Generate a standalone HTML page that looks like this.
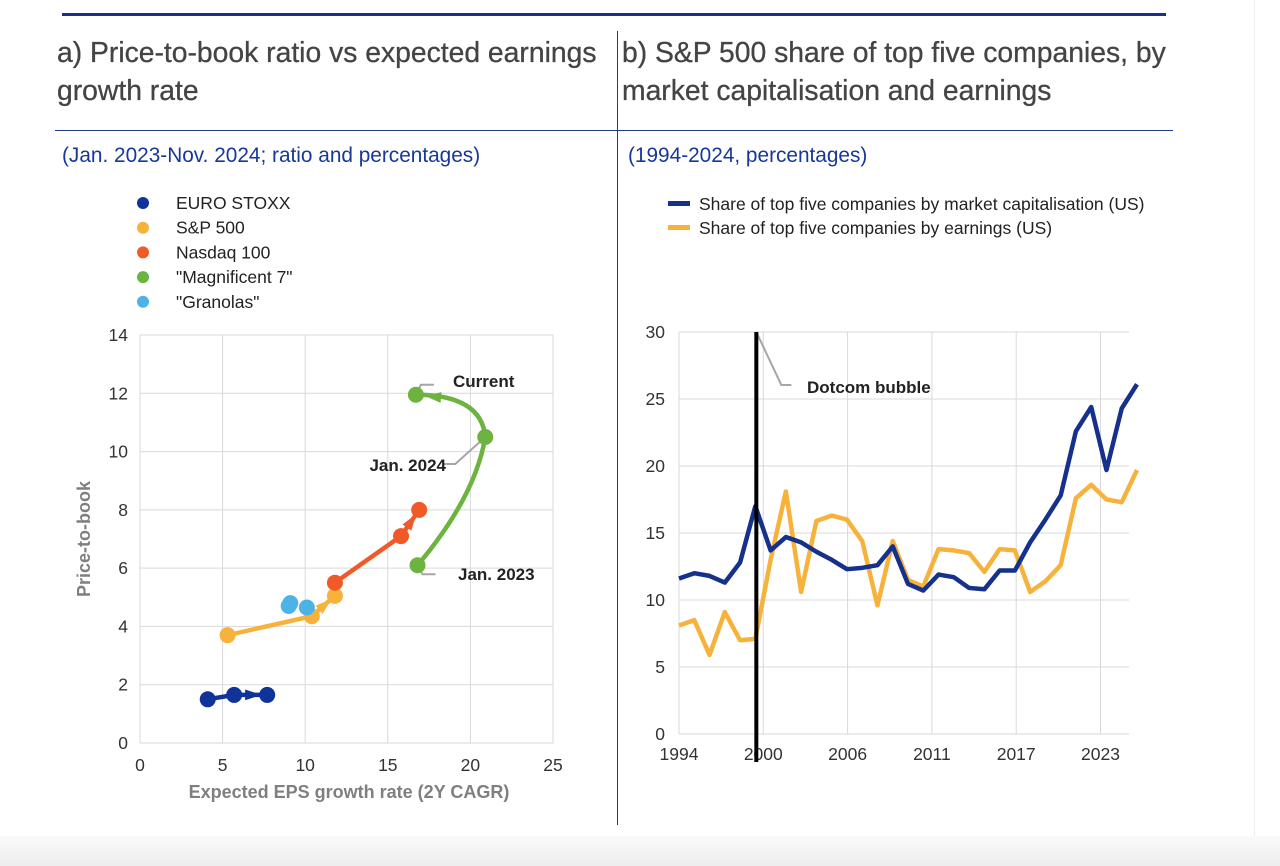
<!DOCTYPE html>
<html><head><meta charset="utf-8"><style>
body{margin:0;width:1280px;height:866px;background:#fff;position:relative;overflow:hidden;font-family:"Liberation Sans",sans-serif}
.t{position:absolute;color:#444;font-size:28.3px;line-height:38px;white-space:nowrap;-webkit-text-stroke:0.3px #444}
.s{position:absolute;color:#17389a;font-size:20.8px;white-space:nowrap}
.ln{position:absolute;background:#1d3c8f}
</style></head><body>
<div class="ln" style="left:62px;top:13px;width:1104px;height:3px;background:#15318c"></div>
<div class="ln" style="left:55px;top:130px;width:1118px;height:1px"></div>
<div class="ln" style="left:617px;top:31px;width:1px;height:794px"></div>
<div class="t" style="left:57px;top:33px">a) Price-to-book ratio vs expected earnings<br>growth rate</div>
<div class="t" style="left:622px;top:33px">b) S&amp;P 500 share of top five companies, by<br>market capitalisation and earnings</div>
<div class="s" style="left:62px;top:144px">(Jan. 2023-Nov. 2024; ratio and percentages)</div>
<div class="s" style="left:628px;top:144px">(1994-2024, percentages)</div>
<div style="position:absolute;left:0;top:836px;width:1280px;height:30px;background:linear-gradient(#fafafa,#eee)"></div>
<div style="position:absolute;left:1254px;top:0;width:1px;height:836px;background:#eee"></div>
<svg id="svgA" width="617" height="830" style="position:absolute;left:0;top:0"></svg>
<svg id="svgB" width="660" height="830" style="position:absolute;left:617px;top:0"></svg>
<script>
// ---------- Chart A data ----------
const seriesNames=["EURO STOXX","S&P 500","Nasdaq 100","\"Magnificent 7\"","\"Granolas\""];
const seriesColors=["#10339a","#f7b23b","#ef5a28","#6db33f","#4db3e6"];
const euroX=[4.1,5.7,7.7], euroY=[1.5,1.65,1.65];
const spX=[5.3,10.4,11.8], spY=[3.7,4.35,5.05];
const ndqX=[11.8,15.8,16.9], ndqY=[5.5,7.1,8.0];
const magX=[16.8,20.9,16.7], magY=[6.1,10.5,11.95];
const granX=[9.0,9.1,10.1], granY=[4.7,4.8,4.65];
const xTicksA=[0,5,10,15,20,25], yTicksA=[0,2,4,6,8,10,12,14];
// ---------- Chart B data ----------
const yearsB=[1994,1995,1996,1997,1998,1999,2000,2001,2002,2003,2004,2005,2006,2007,2008,2009,2010,2011,2012,2013,2014,2015,2016,2017,2018,2019,2020,2021,2022,2023,2024];
const mcapShare=[11.6,12.0,11.8,11.3,12.8,17.0,13.7,14.7,14.3,13.6,13.0,12.3,12.4,12.6,14.0,11.2,10.7,11.9,11.7,10.9,10.8,12.2,12.2,14.3,16.0,17.8,22.6,24.4,19.7,24.3,26.1];
const earnShare=[8.1,8.5,5.9,9.1,7.0,7.1,13.0,18.1,10.6,15.9,16.3,16.0,14.4,9.6,14.4,11.5,11.0,13.8,13.7,13.5,12.1,13.8,13.7,10.6,11.4,12.6,17.6,18.6,17.5,17.3,19.7];
const xTickLabelsB=["1994","2000","2006","2011","2017","2023"];
const yTicksB=[0,5,10,15,20,25,30];

const NS="http://www.w3.org/2000/svg";
const NARROW='"Liberation Sans Narrow","Liberation Sans",sans-serif';
function mk(p,tag,at,txt){const e=document.createElementNS(NS,tag);for(const k in at)e.setAttribute(k,at[k]);if(txt!==undefined)e.textContent=txt;p.appendChild(e);return e;}

// ===== Chart A =====
const A=document.getElementById('svgA');
const ax0=140,ax1=553,ay0=743,ay1=335;
const xA=v=>ax0+(v/25)*(ax1-ax0), yA=v=>ay0-(v/14)*(ay0-ay1);
xTicksA.forEach(v=>{
 const g=mk(A,'line',{x1:xA(v),x2:xA(v),y1:ay1,y2:ay0,stroke:'#d9d9d9','stroke-width':1});
 
 
 const t=mk(A,'text',{x:xA(v),y:771,'text-anchor':'middle','font-size':17.5,fill:'#333','font-family':NARROW},String(v));
 
 
});
yTicksA.forEach(v=>{
 const g=mk(A,'line',{x1:ax0,x2:ax1,y1:yA(v),y2:yA(v),stroke:'#d9d9d9','stroke-width':1});
 
 
 const t=mk(A,'text',{x:128,y:yA(v)+6,'text-anchor':'end','font-size':17.5,fill:'#333','font-family':NARROW},String(v));
 
 
});
const xt=mk(A,'text',{x:349,y:798,'text-anchor':'middle','font-size':18,'font-weight':'bold',fill:'#7f7f7f'},'Expected EPS growth rate (2Y CAGR)');


const yt=mk(A,'text',{x:0,y:0,transform:'translate(90,539) rotate(-90)','text-anchor':'middle','font-size':18,'font-weight':'bold',fill:'#7f7f7f'},'Price-to-book');



function leader(pts,name){const p=mk(A,'polyline',{points:pts,fill:'none',stroke:'#a6a6a6','stroke-width':2});}
leader(`${xA(magX[2])},${yA(magY[2])} ${xA(magX[2])+5},${yA(magY[2])-10} ${xA(magX[2])+18},${yA(magY[2])-10}`,'leader-current');
leader(`${xA(magX[1])},${yA(magY[1])} ${xA(magX[1])-30},${yA(magY[1])+27} ${xA(magX[1])-43},${yA(magY[1])+27}`,'leader-jan-2024');
leader(`${xA(magX[0])},${yA(magY[0])} ${xA(magX[0])+5},${yA(magY[0])+9} ${xA(magX[0])+18},${yA(magY[0])+9}`,'leader-jan-2023');
[["Current",453,387,'start','label-current'],["Jan. 2024",446,471,'end','label-jan-2024'],["Jan. 2023",458,580,'start','label-jan-2023']].forEach(d=>{
 const t=mk(A,'text',{x:d[1],y:d[2],'text-anchor':d[3],'font-size':17,'font-weight':'bold',fill:'#222'},d[0]);
 
 
});

function arrow(tx,ty,ang,col,name){
 const s=9, pts=[[tx+Math.cos(ang)*s,ty+Math.sin(ang)*s],[tx+Math.cos(ang+2.5)*s,ty+Math.sin(ang+2.5)*s],[tx+Math.cos(ang-2.5)*s,ty+Math.sin(ang-2.5)*s]];
 const a=mk(A,'polygon',{points:pts.map(p=>p.join(',')).join(' '),fill:col});
 
 
}
function series(xs,ys,col,name,curve){
 let d;
 if(curve){
  d=`M${xA(xs[0])},${yA(ys[0])} Q${xA(xs[1])-10},${yA(ys[1])+60} ${xA(xs[1])},${yA(ys[1])} Q${xA(xs[1])-4},${yA(ys[2])} ${xA(xs[2])},${yA(ys[2])}`;
 } else d='M'+xs.map((x,i)=>xA(x)+','+yA(ys[i])).join(' L');
 const p=mk(A,'path',{d:d,fill:'none',stroke:col,'stroke-width':4.5});
 
 
 xs.forEach((x,i)=>{
  const c=mk(A,'circle',{cx:xA(x),cy:yA(ys[i]),r:8,fill:col});
  
  
 });
 const n=xs.length, x1=xA(xs[n-2]),y1=yA(ys[n-2]),x2=xA(xs[n-1]),y2=yA(ys[n-1]);
 if(curve){ arrow(x2+18,y2+2,Math.PI+0.1,col,name); return; }
 const ang=Math.atan2(y2-y1,x2-x1);
 const L=Math.hypot(x2-x1,y2-y1), k=Math.min(16,L*0.45);
 arrow(x2-Math.cos(ang)*k,y2-Math.sin(ang)*k,ang,col,name);
}
series(euroX,euroY,seriesColors[0],'euro-stoxx');
series(spX,spY,seriesColors[1],'sp500');
series(ndqX,ndqY,seriesColors[2],'nasdaq-100');
series(magX,magY,seriesColors[3],'magnificent-7',true);
granX.forEach((x,i)=>{
 const c=mk(A,'circle',{cx:xA(x),cy:yA(granY[i]),r:8,fill:seriesColors[4]});
 
 
});
seriesNames.forEach((n,i)=>{
 const y=203+i*24.7;
 const c=mk(A,'circle',{cx:143,cy:y,r:6,fill:seriesColors[i]});
 
 
 const t=mk(A,'text',{x:176,y:y+6,'font-size':17.5,fill:'#222','font-family':NARROW},n);
 
 
});

// ===== Chart B =====
const B=document.getElementById('svgB');
const bx0=679-617,bx1=1137-617,by0=734,by1=332;
const xB=i=>bx0+i*(bx1-bx0)/(yearsB.length-1), yB=v=>by0-(v/30)*(by0-by1);
const gx0=bx0, gstep=84.3;
xTickLabelsB.forEach((l,k)=>{
 const x=gx0+k*gstep;
 const g=mk(B,'line',{x1:x,x2:x,y1:by1,y2:by0,stroke:'#d9d9d9','stroke-width':1});
 
 
 const t=mk(B,'text',{x:x,y:760,'text-anchor':'middle','font-size':17.5,fill:'#333','font-family':NARROW},l);
 
 
});
yTicksB.forEach(v=>{
 const g=mk(B,'line',{x1:bx0,x2:bx1-8,y1:yB(v),y2:yB(v),stroke:'#d9d9d9','stroke-width':1});
 
 
 const t=mk(B,'text',{x:48,y:yB(v)+6,'text-anchor':'end','font-size':17.5,fill:'#333','font-family':NARROW},String(v));
 
 
});
const vx=xB(5)+1;
const dl=mk(B,'polyline',{points:`${vx},${by1} ${vx+25},${385} ${vx+35},${385}`,fill:'none',stroke:'#a6a6a6','stroke-width':2});


const dt=mk(B,'text',{x:190,y:393,'font-size':17,'font-weight':'bold',fill:'#222'},'Dotcom bubble');


[[earnShare,'#f7b23b','earnings-share-line'],[mcapShare,'#15318c','market-cap-share-line']].forEach(s=>{
 const p=mk(B,'polyline',{points:s[0].map((v,i)=>xB(i)+','+yB(v)).join(' '),fill:'none',stroke:s[1],'stroke-width':4.5,'stroke-linejoin':'round'});
 
 
});
const vl=mk(B,'line',{x1:vx,x2:vx,y1:by1,y2:762,stroke:'#000','stroke-width':4});


[['Share of top five companies by market capitalisation (US)','#15318c',204],['Share of top five companies by earnings (US)','#f7b23b',228]].forEach(d=>{
 const r=mk(B,'rect',{x:51,y:d[2]-3,width:22,height:5,fill:d[1]});
 
 
 const t=mk(B,'text',{x:82,y:d[2]+6,'font-size':17.5,fill:'#222','font-family':NARROW},d[0]);
 
 
});
</script>
</body></html>
